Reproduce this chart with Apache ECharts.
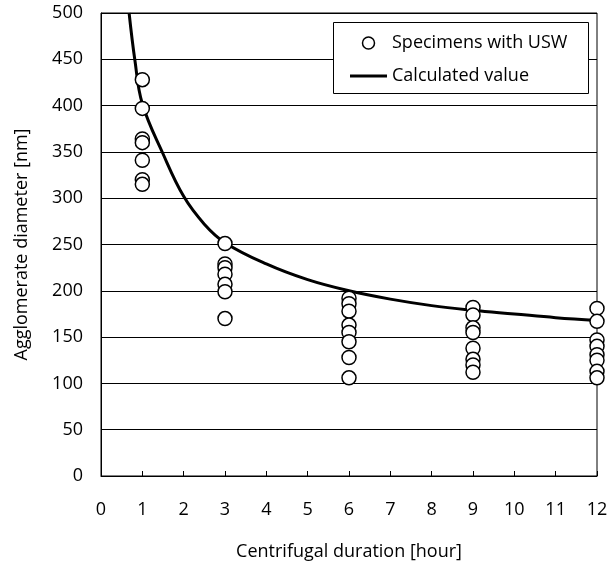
<!DOCTYPE html>
<html>
<head>
<meta charset="utf-8">
<script src="https://cdn.jsdelivr.net/npm/echarts@6/dist/echarts.min.js"></script>
<style>
html,body{margin:0;padding:0;background:#fff;}
#chart{width:613px;height:562px;}
</style>
</head>
<body>
<div id="chart"></div>
<script>
// Specimen durations [hour]
const durations = [1, 3, 6, 9, 12];
// Agglomerate diameters [nm] per duration
const d1h  = [428, 397, 364, 360, 341, 320, 315];
const d3h  = [251, 229, 225, 218, 207, 199, 170];
const d6h  = [192, 186, 178, 163, 155, 145, 128, 106];
const d9h  = [182, 174, 160, 155, 138, 126, 120, 112];
const d12h = [181, 167, 147, 140, 131, 125, 113, 106];
// Calculated curve
const calcT = [0.68, 0.82, 1, 1.5, 2, 2.5, 3, 4, 5, 6, 7, 8, 9, 10, 11, 12];
const calcD = [500, 449, 402, 348, 302, 272, 252, 229, 212, 200, 191, 184, 179, 175, 171, 168];
// Axis ticks
const xTicks = [0,1,2,3,4,5,6,7,8,9,10,11,12];
const yTicks = [0,50,100,150,200,250,300,350,400,450,500];

const groups = [d1h, d3h, d6h, d9h, d12h];
const specimenData = [];
groups.forEach((g, i) => g.forEach(v => specimenData.push([durations[i], v])));
const calcData = calcT.map((t, i) => [t, calcD[i]]);

const FONT = 'Open Sans';
const FS = 18;
const chart = echarts.init(document.getElementById('chart'), null, {renderer: 'canvas'});
chart.setOption({
  animation: false,
  backgroundColor: '#fff',
  textStyle: {fontFamily: FONT, color: '#000'},
  grid: {left: 101, right: 16, top: 13, bottom: 86, containLabel: false, outerBoundsMode: 'none',
         show: true, borderColor: '#000', borderWidth: 1, backgroundColor: 'transparent'},
  xAxis: {
    type: 'value', min: xTicks[0], max: xTicks[xTicks.length-1], interval: 1,
    name: 'Centrifugal duration [hour]', nameLocation: 'middle', nameGap: 67,
    nameTextStyle: {fontFamily: FONT, fontSize: FS, color: '#000'},
    axisLine: {show: true, lineStyle: {color: '#000', width: 1}},
    axisTick: {show: true, inside: true, length: 5, lineStyle: {color: '#000'}},
    axisLabel: {fontFamily: FONT, fontSize: FS, color: '#000', margin: 25},
    splitLine: {show: false}
  },
  yAxis: {
    type: 'value', min: yTicks[0], max: yTicks[yTicks.length-1], interval: 50,
    name: 'Agglomerate diameter [nm]', nameLocation: 'middle', nameGap: 70,
    nameTextStyle: {fontFamily: FONT, fontSize: FS, color: '#000'},
    axisLine: {show: true, lineStyle: {color: '#000', width: 1}},
    axisTick: {show: false},
    axisLabel: {fontFamily: FONT, fontSize: FS, color: '#000', margin: 18},
    splitLine: {show: true, lineStyle: {color: '#000', width: 1}}
  },
  graphic: [{
    type: 'rect', left: 333, top: 22, z: 3,
    shape: {width: 255, height: 71},
    style: {fill: '#fff', stroke: '#000', lineWidth: 1}
  }],
  legend: {
    orient: 'vertical', left: 333, top: 22, z: 5,
    padding: [12, 10, 10, 17],
    itemWidth: 37, itemHeight: 12, itemGap: 15,
    textStyle: {fontFamily: FONT, fontSize: FS, color: '#000'},
    data: [
      {name: 'Specimens with USW', icon: 'circle', itemStyle: {color: '#fff', borderColor: '#000', borderWidth: 1.5}},
      {name: 'Calculated value', icon: 'path://M0,0 L37,0 L37,3 L0,3 Z', itemStyle: {color: '#000', borderWidth: 0}}
    ]
  },
  series: [
    {
      name: 'Calculated value', type: 'line', data: calcData, smooth: 0.4,
      showSymbol: false, symbol: 'none', clip: true, z: 2,
      lineStyle: {color: '#000', width: 3}, itemStyle: {color: '#000'}
    },
    {
      name: 'Specimens with USW', type: 'scatter', data: specimenData, z: 3,
      symbol: 'circle', symbolSize: 14,
      itemStyle: {color: '#fff', borderColor: '#000', borderWidth: 1.5, opacity: 1}
    }
  ]
});
</script>
</body>
</html>
